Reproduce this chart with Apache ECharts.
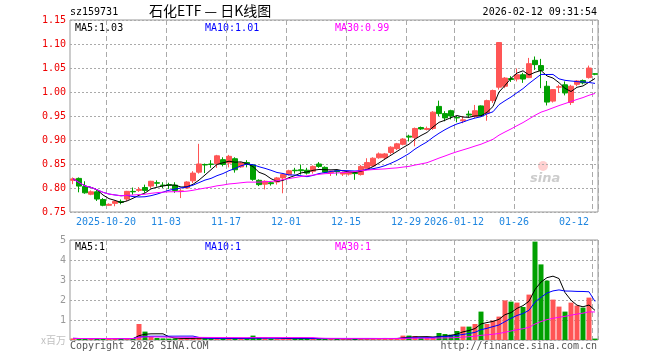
<!DOCTYPE html>
<html><head><meta charset="utf-8">
<script src="https://cdn.jsdelivr.net/npm/echarts@6/dist/echarts.min.js"></script>
<style>html,body{margin:0;padding:0;background:#fff}#c{width:660px;height:360px}</style>
</head><body><div id="c"></div>
<script>
const dates = [
'2025-10-10','2025-10-13','2025-10-14','2025-10-15','2025-10-16','2025-10-17',
'2025-10-20','2025-10-21','2025-10-22','2025-10-23','2025-10-24',
'2025-10-27','2025-10-28','2025-10-29','2025-10-30','2025-10-31',
'2025-11-03','2025-11-04','2025-11-05','2025-11-06','2025-11-07',
'2025-11-10','2025-11-11','2025-11-12','2025-11-13','2025-11-14',
'2025-11-17','2025-11-18','2025-11-19','2025-11-20','2025-11-21',
'2025-11-24','2025-11-25','2025-11-26','2025-11-27','2025-11-28',
'2025-12-01','2025-12-02','2025-12-03','2025-12-04','2025-12-05',
'2025-12-08','2025-12-09','2025-12-10','2025-12-11','2025-12-12',
'2025-12-15','2025-12-16','2025-12-17','2025-12-18','2025-12-19',
'2025-12-22','2025-12-23','2025-12-24','2025-12-25','2025-12-26',
'2025-12-29','2025-12-30','2025-12-31',
'2026-01-05','2026-01-06','2026-01-07','2026-01-08','2026-01-09',
'2026-01-12','2026-01-13','2026-01-14','2026-01-15','2026-01-16',
'2026-01-19','2026-01-20','2026-01-21','2026-01-22','2026-01-23',
'2026-01-26','2026-01-27','2026-01-28','2026-01-29','2026-01-30',
'2026-02-02','2026-02-03','2026-02-04','2026-02-05','2026-02-06',
'2026-02-09','2026-02-10','2026-02-11','2026-02-12'];

const opens = [
0.816,0.820,0.803,0.787,0.792,0.776,0.764,0.768,0.772,0.777,
0.793,0.795,0.801,0.804,0.811,0.806,0.807,0.806,0.793,0.800,
0.815,0.833,0.849,0.850,0.851,0.859,0.852,0.861,0.844,0.853,
0.848,0.816,0.808,0.811,0.8125,0.821,0.828,0.837,0.838,0.837,
0.835,0.850,0.843,0.832,0.836,0.829,0.829,0.832,0.828,0.841,
0.846,0.863,0.863,0.874,0.882,0.891,0.908,0.905,0.926,0.922,
0.924,0.970,0.955,0.961,0.947,0.940,0.954,0.949,0.971,0.956,
0.982,1.010,1.012,1.028,1.027,1.036,1.030,1.066,1.055,1.012,
0.981,1.010,1.015,0.978,1.016,1.024,1.030,1.038];
const closes = [
0.819,0.804,0.790,0.792,0.777,0.764,0.766,0.772,0.770,0.793,
0.792,0.797,0.795,0.814,0.810,0.805,0.806,0.795,0.794,0.8125,
0.831,0.850,0.848,0.849,0.867,0.849,0.866,0.838,0.852,0.849,
0.818,0.807,0.814,0.809,0.821,0.828,0.836,0.836,0.836,0.831,
0.845,0.845,0.833,0.835,0.834,0.832,0.833,0.830,0.845,0.853,
0.862,0.871,0.871,0.885,0.892,0.902,0.906,0.924,0.923,0.924,
0.958,0.955,0.946,0.950,0.946,0.942,0.952,0.961,0.951,0.982,
1.003,1.103,1.029,1.026,1.036,1.027,1.059,1.057,1.045,0.979,
1.005,1.011,0.998,1.012,1.023,1.019,1.050,1.037];
const lows = [
0.808,0.791,0.788,0.785,0.773,0.762,0.763,0.762,0.766,0.773,
0.786,0.792,0.790,0.800,0.803,0.800,0.798,0.790,0.779,0.798,
0.810,0.830,0.831,0.842,0.842,0.845,0.843,0.832,0.842,0.843,
0.815,0.804,0.797,0.805,0.807,0.789,0.826,0.830,0.828,0.828,
0.830,0.842,0.831,0.825,0.826,0.825,0.826,0.817,0.826,0.838,
0.845,0.861,0.860,0.870,0.879,0.889,0.897,0.887,0.921,0.920,
0.921,0.950,0.939,0.943,0.937,0.935,0.947,0.946,0.949,0.940,
0.977,1.005,1.008,1.021,1.022,1.019,1.029,1.046,1.008,0.972,
0.978,0.998,0.993,0.973,1.012,1.016,1.028,1.035];
const highs = [
0.822,0.822,0.814,0.795,0.797,0.779,0.768,0.774,0.776,0.794,
0.801,0.802,0.807,0.815,0.816,0.812,0.811,0.812,0.798,0.814,
0.835,0.892,0.851,0.858,0.869,0.864,0.869,0.864,0.854,0.858,
0.850,0.818,0.816,0.814,0.823,0.830,0.838,0.842,0.849,0.842,
0.847,0.854,0.845,0.836,0.838,0.834,0.835,0.834,0.848,0.862,
0.864,0.874,0.873,0.887,0.894,0.904,0.911,0.926,0.928,0.928,
0.960,0.982,0.960,0.963,0.950,0.950,0.961,0.973,0.972,0.984,
1.005,1.104,1.031,1.033,1.049,1.040,1.071,1.074,1.069,1.023,
1.006,1.015,1.022,1.015,1.025,1.026,1.055,1.039];
const volumes = [
0.08,0.07,0.07,0.06,0.08,0.09,0.06,0.06,0.05,0.09,
0.08,0.80,0.42,0.15,0.10,0.08,0.07,0.08,0.07,0.09,
0.10,0.12,0.08,0.07,0.09,0.07,0.08,0.08,0.06,0.07,
0.22,0.10,0.08,0.06,0.07,0.08,0.08,0.06,0.07,0.06,
0.08,0.07,0.07,0.06,0.07,0.06,0.06,0.07,0.08,0.07,
0.08,0.07,0.08,0.07,0.08,0.22,0.22,0.20,0.10,0.10,
0.12,0.35,0.30,0.27,0.45,0.67,0.67,0.80,1.42,0.80,
0.97,1.17,1.98,1.92,1.87,1.65,2.27,4.92,3.78,2.97,
2.02,1.67,1.42,1.87,1.72,1.62,2.12,0.07];

const labelDates = ['2025-10-20','2025-11-03','2025-11-17','2025-12-01','2025-12-15','2025-12-29','2026-01-12','2026-01-26','2026-02-12'];
const labelTexts = ['2025-10-20','11-03','11-17','12-01','12-15','12-29','2026-01-12','01-26','02-12'];
const priceMin = 0.75, priceMax = 1.15, priceStep = 0.05;
const volMin = 0, volMax = 5, volStep = 1;
const maLabels = ['MA5:1.03','MA10:1.01','MA30:0.99'];
const volMaLabels = ['MA5:1','MA10:1','MA30:1'];
const maColors = ['#000000','#0000ff','#ff00ff'];
const header = ['sz159731','石化ETF — 日K线图','2026-02-12 09:31:54'];
const footer = ['Copyright 2026 SINA.COM','http://finance.sina.com.cn'];

const UP = '#ff5555', DOWN = '#00a000';
function ma(arr, n){
  return arr.map((_, i) => { const s = Math.max(0, i-n+1); let sum = 0; for (let j=s;j<=i;j++) sum += arr[j]; return +(sum/(i-s+1)).toFixed(4); });
}
const kdata = dates.map((d,i)=>[opens[i],closes[i],lows[i],highs[i]]);
const mono = '"DejaVu Sans Mono", monospace';
const isLabel = (idx, val) => labelDates.indexOf(val) >= 0;
const splitX = {show:true, interval:isLabel, lineStyle:{color:'#aaaaaa', type:[5,3], width:1}};
const splitY = {show:true, lineStyle:{color:'#aaaaaa', type:[2,2], width:1}};

const chart = echarts.init(document.getElementById('c'), null, {renderer:'canvas'});
const grids = [
  {left:70, right:62, top:20, height:192, show:true, borderColor:'#999', borderWidth:1},
  {left:70, right:62, top:240, height:100, show:true, borderColor:'#999', borderWidth:1}
];
const option = {
  animation:false,
  backgroundColor:'#fff',
  grid: grids,
  xAxis: [
    {type:'category', gridIndex:0, data:dates, boundaryGap:true,
     axisLine:{show:false}, axisTick:{show:false},
     axisLabel:{interval:isLabel, formatter:v=>labelTexts[labelDates.indexOf(v)], color:'#1f86e0', fontFamily:mono, fontSize:10, margin:5, padding:[0,6,0,0], alignMaxLabel:'right'},
     splitLine:splitX},
    {type:'category', gridIndex:1, data:dates, boundaryGap:true,
     axisLine:{show:false}, axisTick:{show:false}, axisLabel:{show:false}, splitLine:splitX}
  ],
  yAxis: [
    {type:'value', gridIndex:0, min:priceMin, max:priceMax, interval:priceStep,
     axisLine:{show:false}, axisTick:{show:false},
     axisLabel:{color:'#ee0000', fontFamily:mono, fontSize:10, margin:4, formatter:v=>v.toFixed(2)},
     splitLine:splitY},
    {type:'value', gridIndex:1, min:volMin, max:volMax, interval:volStep,
     axisLine:{show:false}, axisTick:{show:false},
     axisLabel:{color:'#999', fontFamily:mono, fontSize:10, margin:4,
       formatter:v=> v===0 ? '{u|x百万}' : String(v),
       rich:{u:{color:'#c0c0c0', fontFamily:'"Noto Sans CJK SC"', fontSize:10}}},
     splitLine:splitY}
  ],
  series: [
    {type:'candlestick', xAxisIndex:0, yAxisIndex:0, data:kdata, barWidth:5, silent:true,
     itemStyle:{color:UP, color0:DOWN, borderColor:UP, borderColor0:DOWN, borderWidth:1}},
    {type:'line', xAxisIndex:0, yAxisIndex:0, data:ma(closes,5), symbol:'none', silent:true, lineStyle:{color:maColors[0], width:1}},
    {type:'line', xAxisIndex:0, yAxisIndex:0, data:ma(closes,10), symbol:'none', silent:true, lineStyle:{color:maColors[1], width:1}},
    {type:'line', xAxisIndex:0, yAxisIndex:0, data:ma(closes,30), symbol:'none', silent:true, lineStyle:{color:maColors[2], width:1}},
    {type:'bar', xAxisIndex:1, yAxisIndex:1, barWidth:5, silent:true,
     data: volumes.map((v,i)=>({value:v, itemStyle:{color: closes[i]>=opens[i] ? UP : DOWN}}))},
    {type:'line', xAxisIndex:1, yAxisIndex:1, data:ma(volumes,5), symbol:'none', silent:true, lineStyle:{color:maColors[0], width:1}},
    {type:'line', xAxisIndex:1, yAxisIndex:1, data:ma(volumes,10), symbol:'none', silent:true, lineStyle:{color:maColors[1], width:1}},
    {type:'line', xAxisIndex:1, yAxisIndex:1, data:ma(volumes,30), symbol:'none', silent:true, lineStyle:{color:maColors[2], width:1}}
  ],
  graphic: [
    {type:'text', left:70, top:7, silent:true, style:{text:header[0], fill:'#000', font:'10px '+mono}},
    {type:'text', left:149, top:4, silent:true, style:{text:header[1], fill:'#000', font:'14px "Noto Sans CJK SC"'}},
    {type:'text', right:63, top:7, silent:true, style:{text:header[2], fill:'#000', font:'10px '+mono}},
    {type:'text', left:75, top:23, silent:true, style:{text:maLabels[0], fill:maColors[0], font:'10px '+mono}},
    {type:'text', left:205, top:23, silent:true, style:{text:maLabels[1], fill:maColors[1], font:'10px '+mono}},
    {type:'text', left:335, top:23, silent:true, style:{text:maLabels[2], fill:maColors[2], font:'10px '+mono}},
    {type:'text', left:75, top:242, silent:true, style:{text:volMaLabels[0], fill:maColors[0], font:'10px '+mono}},
    {type:'text', left:205, top:242, silent:true, style:{text:volMaLabels[1], fill:maColors[1], font:'10px '+mono}},
    {type:'text', left:335, top:242, silent:true, style:{text:volMaLabels[2], fill:maColors[2], font:'10px '+mono}},
    {type:'text', left:70, top:341, silent:true, style:{text:footer[0], fill:'#555', font:'10px '+mono}},
    {type:'text', right:63, top:341, silent:true, style:{text:footer[1], fill:'#555', font:'10px '+mono}},
    {type:'circle', shape:{cx:543, cy:166, r:5}, silent:true, style:{fill:'rgba(255,120,120,0.35)'}},
    {type:'text', left:530, top:172, silent:true, style:{text:'sina', fill:'rgba(170,170,170,0.6)', font:'italic bold 13px "DejaVu Sans"'}}
  ]
};
chart.setOption(option);
</script></body></html>
